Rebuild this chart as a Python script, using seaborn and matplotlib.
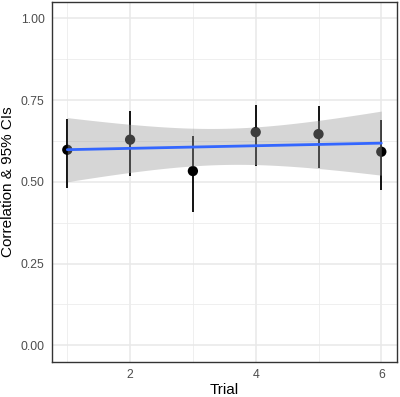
import numpy as np
import pandas as pd
import matplotlib
matplotlib.use("Agg")
import matplotlib.pyplot as plt
import seaborn as sns

trial = [1, 2, 3, 4, 5, 6]
corr = [0.598, 0.629, 0.533, 0.652, 0.646, 0.592]
ci_low = [0.481, 0.519, 0.407, 0.548, 0.541, 0.476]
ci_high = [0.692, 0.717, 0.640, 0.736, 0.732, 0.689]

df = pd.DataFrame({"Trial": trial, "r": corr, "lo": ci_low, "hi": ci_high})

sns.set_theme(style="white")
plt.rcParams["font.family"] = ["Liberation Sans", "DejaVu Sans"]

fig = plt.figure(figsize=(4.0, 3.97), dpi=100)
ax = fig.add_axes([0.129, 0.089, 0.8635, 0.906])

# ggplot theme_bw look
ax.set_xlim(0.75, 6.25)
ax.set_ylim(-0.05, 1.05)
ax.set_xticks([2, 4, 6])
ax.set_xticks([1, 3, 5], minor=True)
ax.set_yticks([0, 0.25, 0.5, 0.75, 1.0])
ax.set_yticks([0.125, 0.375, 0.625, 0.875], minor=True)
ax.set_yticklabels(["0.00", "0.25", "0.50", "0.75", "1.00"])
ax.grid(which="major", color="#e8e8e8", lw=1.1, zorder=0)
ax.grid(which="minor", color="#ececec", lw=0.6, zorder=0)
ax.set_axisbelow(True)
for s in ax.spines.values():
    s.set_color("#333333")
    s.set_linewidth(1.0)
ax.tick_params(which="major", length=3, width=0.8, color="#333333",
               labelcolor="#4d4d4d", labelsize=8.8, pad=2)
ax.tick_params(which="minor", length=0)

# points + error bars
ax.vlines(df["Trial"], df["lo"], df["hi"], color="black", lw=1.3, zorder=3)
sns.scatterplot(data=df, x="Trial", y="r", color="black", s=55,
                edgecolor="none", ax=ax, zorder=4)

# linear fit with t-based 95% band
x = np.array(trial, dtype=float)
y = np.array(corr)
b, a = np.polyfit(x, y, 1)
xs = np.linspace(1, 6, 80)
resid = y - (a + b * x)
n = len(x)
se_res = np.sqrt((resid ** 2).sum() / (n - 2))
se = se_res * np.sqrt(1 / n + (xs - x.mean()) ** 2 / ((x - x.mean()) ** 2).sum())
tval = 2.776
fit = a + b * xs
ax.fill_between(xs, fit - tval * se, fit + tval * se, color="#999999",
                alpha=0.4, lw=0, zorder=5)
sns.regplot(data=df, x="Trial", y="r", scatter=False, ci=None, ax=ax,
            line_kws={"color": "#3366FF", "lw": 2.0, "zorder": 6}, truncate=True)

ax.set_xlabel("Trial", fontsize=11, color="black", labelpad=2)
ax.set_ylabel("Correlation & 95% CIs", fontsize=11, color="black", labelpad=4)

fig.savefig("out.png", dpi=100)
